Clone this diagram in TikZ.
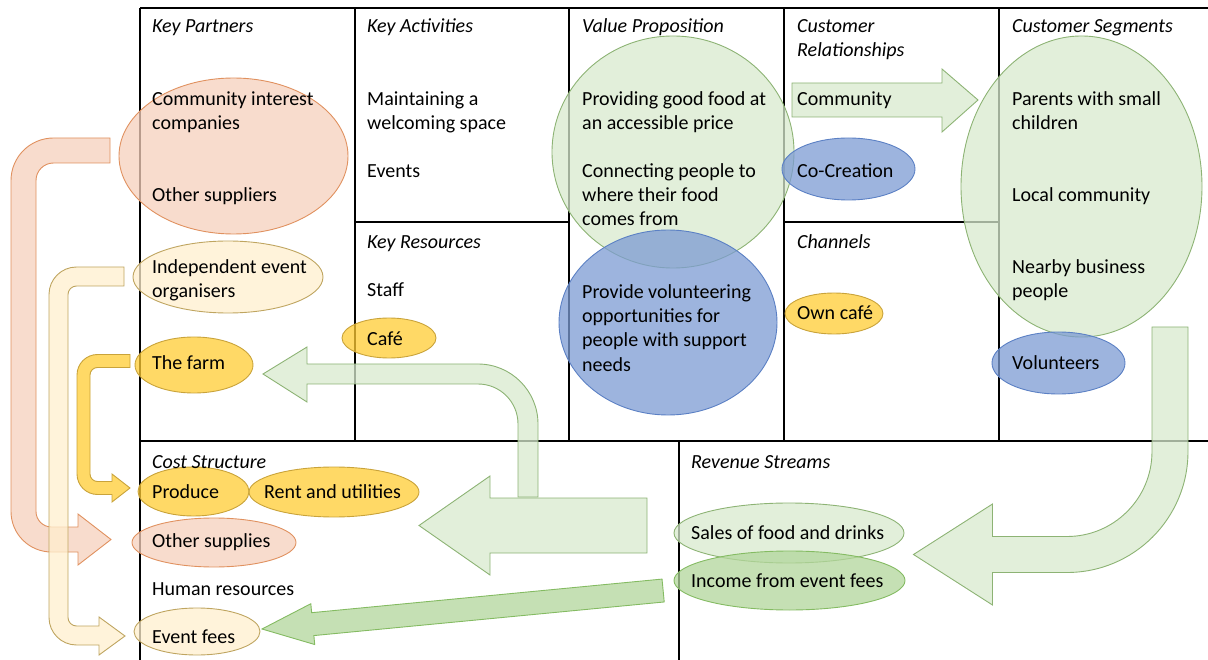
\documentclass[tikz,border=0pt]{standalone}
\usepackage{fontspec}
\setmainfont{Carlito}

\definecolor{peachfill}{HTML}{F6D0BC}
\definecolor{peachline}{HTML}{E0915F}
\definecolor{goldfill}{HTML}{FFCC33}
\definecolor{goldline}{HTML}{C9A33A}
\definecolor{creamfill}{HTML}{FFEFCE}
\definecolor{creamline}{HTML}{BFA560}
\definecolor{sagefill}{HTML}{D8EACE}
\definecolor{sageline}{HTML}{8DB374}
\definecolor{cornfill}{HTML}{7C9BD3}
\definecolor{cornline}{HTML}{5B80C4}
\definecolor{leaffill}{HTML}{B2D69B}
\definecolor{leafline}{HTML}{84BB62}

\tikzset{
	blob/.style={line width=.9pt, fill opacity=.75},
	peach/.style={blob, fill=peachfill, draw=peachline},
	gold/.style={blob, fill=goldfill, draw=goldline},
	cream/.style={blob, fill=creamfill, draw=creamline},
	sage/.style={blob, fill=sagefill, draw=sageline},
	corn/.style={blob, fill=cornfill, draw=cornline},
	leaf/.style={blob, fill=leaffill, draw=leafline},
	canvasline/.style={line width=1.2pt},
	txt/.style={anchor=base west, inner sep=0pt, font=\fontsize{20}{24}\selectfont},
	head/.style={txt, font=\fontsize{20}{24}\selectfont\itshape}
}

\begin{document}
\begin{tikzpicture}[x=1pt, y=1pt, yscale=-1]
		\useasboundingbox (0,0) rectangle (1208,660);
		% canvas
		\draw[canvasline] (140,8) -- (1208,8);
		\draw[canvasline] (140,8) -- (140,660);
		\foreach \xx in {355,569,784,999}
			\draw[canvasline] (\xx,8) -- (\xx,441);
		\draw[canvasline] (355,222) -- (569,222);
		\draw[canvasline] (784,222) -- (999,222);
		\draw[canvasline] (140,441) -- (1208,441);
		\draw[canvasline] (679,441) -- (679,660);

		% bubbles
		\draw[peach] (233.5,156) ellipse[x radius=114.5, y radius=78];
		\draw[cream] (228,277) ellipse[x radius=95, y radius=36];
		\draw[gold] (194,365) ellipse[x radius=59, y radius=28];
		\draw[gold] (389,338) ellipse[x radius=47, y radius=20];
		\draw[sage] (673,152) ellipse[x radius=121, y radius=116];
		\draw[corn] (668,322.5) ellipse[x radius=109, y radius=92.5];
		\draw[corn] (848.5,169) ellipse[x radius=66.5, y radius=31];
		\draw[gold] (834,313.5) ellipse[x radius=49, y radius=20.5];
		\draw[sage] (1081.5,186.5) ellipse[x radius=120.5, y radius=150.5];
		\draw[corn] (1058.5,363) ellipse[x radius=66.5, y radius=31];
		\draw[gold] (193.5,491.5) ellipse[x radius=55.5, y radius=24.5];
		\draw[gold] (334,492) ellipse[x radius=85, y radius=25];
		\draw[peach] (214,542.5) ellipse[x radius=82, y radius=24.5];
		\draw[cream] (197,631.5) ellipse[x radius=63, y radius=23.5];
		\draw[sage] (789,533) ellipse[x radius=115, y radius=30];
		\draw[leaf] (789.5,580.5) ellipse[x radius=115.5, y radius=29.5];

		% block arrows
		\draw[sage] (792,83) -- (942,83) -- (942,69) -- (978,100) -- (942,132) -- (942,117) -- (792,117) -- cycle;
		\draw[peach] (110,138) -- (53.5,138) arc[start angle=270, end angle=180, radius=42.5] -- (11,511.5)
			arc[start angle=180, end angle=90, radius=40.5] -- (78,552) -- (78,565) -- (111,539.5) -- (78,514) -- (78,527) -- (51.5,527)
			arc[start angle=90, end angle=180, radius=15.5] -- (36,180.5) arc[start angle=180, end angle=270, radius=17.5] -- (110,163) -- cycle;
		\draw[cream] (124,267) -- (76.5,267) arc[start angle=270, end angle=180, radius=27.5] -- (49,617.5)
			arc[start angle=180, end angle=90, radius=27.5] -- (99,645) -- (99,655) -- (125,636) -- (99,617) -- (99,626) -- (76.5,626)
			arc[start angle=90, end angle=180, radius=8.5] -- (68,294.5) arc[start angle=180, end angle=270, radius=8.5] -- (124,286) -- cycle;
		\draw[gold] (130,354.5) -- (97.5,354.5) arc[start angle=270, end angle=180, radius=20.5] -- (77,474)
			arc[start angle=180, end angle=90, radius=20.5] -- (112,494.5) -- (112,502) -- (130,488) -- (112,474) -- (112,481.5) -- (97.5,481.5)
			arc[start angle=90, end angle=180, radius=7.5] -- (90,375) arc[start angle=180, end angle=270, radius=7.5] -- (130,367.5) -- cycle;
		\draw[sage] (647,498) -- (490,498) -- (490,476) -- (419,525.5) -- (490,575) -- (490,553) -- (647,553) -- cycle;
		\draw[sage] (518,497) -- (518,424) arc[start angle=0, end angle=-90, radius=40] -- (307,384) -- (307,402) -- (263,374)
			-- (307,347) -- (307,364) -- (478,364) arc[start angle=270, end angle=360, radius=60] -- (538,497) -- cycle;
		\draw[sage] (1152,327) -- (1152,451.5) arc[start angle=0, end angle=90, radius=85] -- (992.5,536.5) -- (992.5,504) -- (913.5,554.5)
			-- (992.5,605) -- (992.5,572.5) -- (1067,572.5) arc[start angle=90, end angle=0, radius=121] -- (1188,327) -- cycle;
		\begin{scope}[shift={(262,629)}, rotate=-5.48]
			\draw[leaf] (0,0) -- (51,-20.5) -- (51,-11.5) -- (403,-11.5) -- (403,11.5) -- (51,11.5) -- (51,20.5) -- cycle;
		\end{scope}

		% headings
		\node[head] (hPartners) at (152,33) {Key Partners};
		\node[head] (hActivities) at (367,33) {Key Activities};
		\node[head] (hValue) at (582,33) {Value Proposition};
		\node[head] (hRelations) at (797,33) {Customer};
		\node[head] (hRelations2) at (797,57) {Relationships};
		\node[head] (hSegments) at (1012,33) {Customer Segments};
		\node[head] (hResources) at (367,249) {Key Resources};
		\node[head] (hChannels) at (797,249) {Channels};
		\node[head] (hCost) at (152,468) {Cost Structure};
		\node[head] (hRevenue) at (691,468) {Revenue Streams};

		% contents
		\foreach \txtline/\yy [count=\i] in {Community interest/106, companies/130, Other suppliers/202, Independent event/274, organisers/298, The farm/370}
			\node[txt] (partner\i) at (152,\yy) {\txtline};
		\foreach \txtline/\yy [count=\i] in {Maintaining a/106, welcoming space/130, Events/178}
			\node[txt] (activity\i) at (367,\yy) {\txtline};
		\foreach \txtline/\yy [count=\i] in {Staff/297, Café/345}
			\node[txt] (resource\i) at (367,\yy) {\txtline};
		\foreach \txtline/\yy [count=\i] in {Providing good food at/106, an accessible price/130, Connecting people to/178, where their food/202, comes from/226, Provide volunteering/299, opportunities for/323, people with support/347, needs/371}
			\node[txt] (value\i) at (582,\yy) {\txtline};
		\foreach \txtline/\yy [count=\i] in {Community/106, Co-Creation/178}
			\node[txt] (relation\i) at (797,\yy) {\txtline};
		\node[txt] (channel1) at (797,320) {Own café};
		\foreach \txtline/\yy [count=\i] in {Parents with small/106, children/130, Local community/202, Nearby business/274, people/298, Volunteers/370}
			\node[txt] (segment\i) at (1012,\yy) {\txtline};
		\foreach \txtline/\yy [count=\i] in {Produce/498, Other supplies/547, Human resources/595, Event fees/643}
			\node[txt] (cost\i) at (152,\yy) {\txtline};
		\node[txt] (cost5) at (264,498) {Rent and utilities};
		\foreach \txtline/\yy [count=\i] in {Sales of food and drinks/539, Income from event fees/587}
			\node[txt] (revenue\i) at (691,\yy) {\txtline};
	\end{tikzpicture}
\end{document}
